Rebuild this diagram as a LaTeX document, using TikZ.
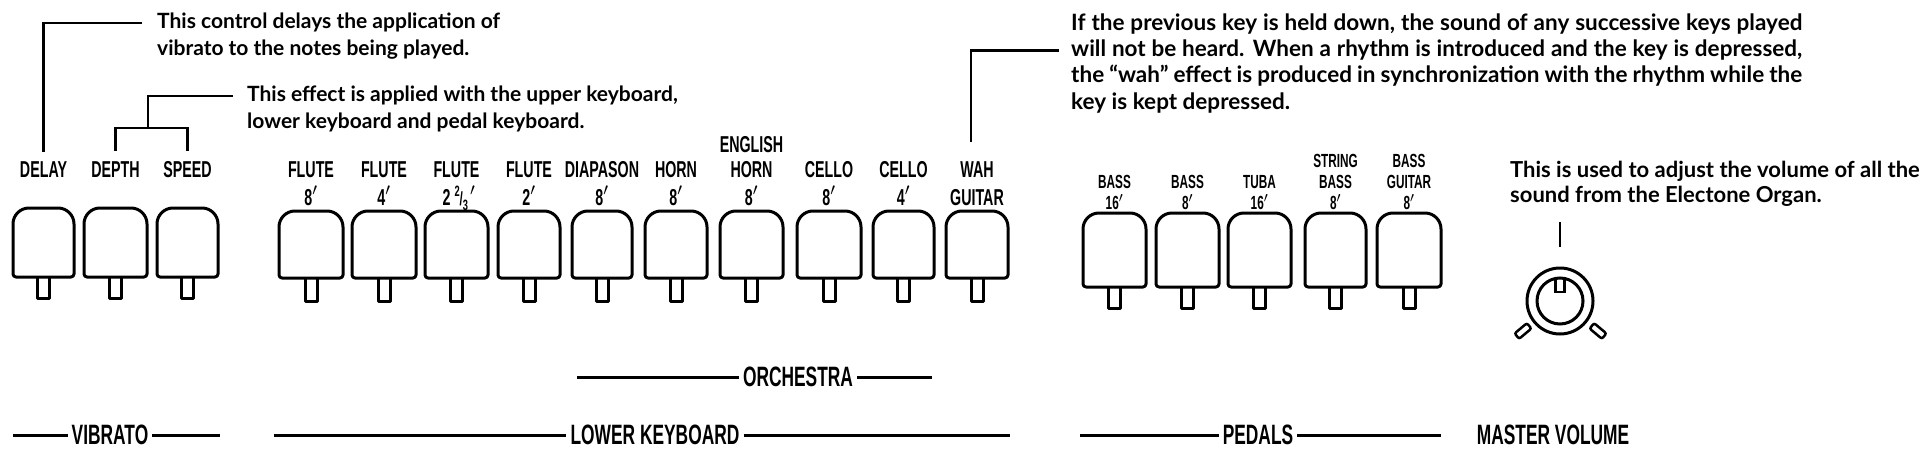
\documentclass[tikz,border=0pt]{standalone}
\usepackage{fontspec}
\newfontfamily\lblfont{Liberation Sans}[FakeStretch=0.62]
\newfontfamily\descfont{Lato}
\newcommand\tabkey[5]{% xl, xr, ytop, ybox, ystem
  \pgfmathsetmacro\tkc{(#1+#2)/2}
  \draw[tabline] (#1,#4+3) -- (#1,#3-16) arc[start angle=180,end angle=90,radius=16pt]
    -- (#2-16,#3) arc[start angle=90,end angle=0,radius=16pt]
    -- (#2,#4+3) arc[start angle=0,end angle=-90,radius=3pt]
    -- (#1+3,#4) arc[start angle=270,end angle=180,radius=3pt] -- cycle;
  \draw[tabline] (\tkc-6,#4) -- (\tkc-6,#5) -- (\tkc+6,#5) -- (\tkc+6,#4);
}
\newcommand\just[1]{\makebox[731pt][s]{#1}}
\begin{document}
\begin{tikzpicture}[x=1pt,y=1pt,
  tabline/.style={line width=3pt, line join=round},
  callout/.style={line width=2.6pt},
  grpline/.style={line width=3pt},
  lbl/.style={font=\lblfont\bfseries\fontsize{23}{23}\selectfont, inner sep=0pt, anchor=base},
  plbl/.style={font=\lblfont\bfseries\fontsize{19}{19}\selectfont, inner sep=0pt, anchor=base},
  grp/.style={font=\lblfont\bfseries\fontsize{28}{28}\selectfont, inner sep=4pt, anchor=center},
  desc/.style={font=\descfont\bfseries\fontsize{21}{21}\selectfont, inner sep=0pt, anchor=base west},
  wdesc/.style={desc, font=\descfont\bfseries\fontsize{22.5}{22.5}\selectfont},
  mdesc/.style={desc, font=\descfont\bfseries\fontsize{22}{22}\selectfont},
  slant/.style={draw, line width=2.5pt, rounded corners=2pt, minimum width=16pt, minimum height=7pt, inner sep=0pt}
]
\useasboundingbox (0,0) rectangle (1928,459);

% ---------- description texts ----------
\node[desc] (c1a) at (157,430) {This control delays the application of};
\node[desc] (c1b) at (157,403) {vibrato to the notes being played.};
\node[desc] (c2a) at (247,357) {This effect is applied with the upper keyboard,};
\node[desc] (c2b) at (247,331) {lower keyboard and pedal keyboard.};
\node[wdesc] (w1) at (1071,428) {\just{If the previous key is held down, the sound of any successive keys played}};
\node[wdesc] (w2) at (1071,402) {\just{will not be heard. When a rhythm is introduced and the key is depressed,}};
\node[wdesc] (w3) at (1071,376) {\just{the “wah” effect is produced in synchronization with the rhythm while the}};
\node[wdesc] (w4) at (1071,350) {key is kept depressed.};
\node[mdesc] (m1) at (1510,282) {This is used to adjust the volume of all the};
\node[mdesc] (m2) at (1510,257) {sound from the Electone Organ.};

% ---------- vibrato ----------
\node[lbl] (delay) at (43.5,282) {DELAY};
\node[lbl] (depth) at (115.5,282) {DEPTH};
\node[lbl] (speed) at (187.5,282) {SPEED};
\tabkey{13}{74}{251}{182}{161}
\tabkey{84}{147}{251}{182}{161}
\tabkey{157}{218}{251}{182}{161}

% ---------- lower keyboard ----------
\node[lbl] (fl8) at (311,282) {FLUTE};
\node[lbl] (fl8f) at (311,254) {8$'$};
\node[lbl] (fl4) at (384,282) {FLUTE};
\node[lbl] (fl4f) at (384,254) {4$'$};
\node[lbl] (fl23) at (456.5,282) {FLUTE};
\node[lbl] (fl23f) at (459,254) {2\kern4pt\raisebox{9pt}{\fontsize{15}{15}\selectfont 2}\kern0pt{\fontsize{19}{19}\selectfont /}\kern0pt\raisebox{-5pt}{\fontsize{15}{15}\selectfont 3}\kern2pt$'$};
\node[lbl] (fl2) at (529,282) {FLUTE};
\node[lbl] (fl2f) at (529,254) {2$'$};
\node[lbl] (diap) at (602,282) {DIAPASON};
\node[lbl] (diapf) at (602,254) {8$'$};
\node[lbl] (horn) at (676,282) {HORN};
\node[lbl] (hornf) at (676,254) {8$'$};
\node[lbl] (eng) at (751.5,307) {ENGLISH};
\node[lbl] (ehorn) at (751.5,282) {HORN};
\node[lbl] (ehornf) at (751.5,254) {8$'$};
\node[lbl] (cel8) at (829,282) {CELLO};
\node[lbl] (cel8f) at (829,254) {8$'$};
\node[lbl] (cel4) at (903.5,282) {CELLO};
\node[lbl] (cel4f) at (903.5,254) {4$'$};
\node[lbl] (wah) at (977,282) {WAH};
\node[lbl] (wahg) at (977,254) {GUITAR};
\tabkey{279}{343}{248}{181}{158}
\tabkey{352}{416}{248}{181}{158}
\tabkey{425}{488}{248}{181}{158}
\tabkey{498}{560}{248}{181}{158}
\tabkey{572}{632}{248}{181}{158}
\tabkey{645}{707}{248}{181}{158}
\tabkey{720}{783}{248}{181}{158}
\tabkey{797}{861}{248}{181}{158}
\tabkey{873}{934}{248}{181}{158}
\tabkey{946}{1008}{248}{181}{158}

% ---------- pedals ----------
\node[plbl] (b16) at (1114.5,271) {BASS};
\node[plbl] (b16f) at (1114.5,250) {16$'$};
\node[plbl] (b8) at (1187.5,271) {BASS};
\node[plbl] (b8f) at (1187.5,250) {8$'$};
\node[plbl] (tuba) at (1259.5,271) {TUBA};
\node[plbl] (tubaf) at (1259.5,250) {16$'$};
\node[plbl] (str) at (1335.5,292) {STRING};
\node[plbl] (strb) at (1335.5,271) {BASS};
\node[plbl] (strf) at (1335.5,250) {8$'$};
\node[plbl] (bg) at (1409,292) {BASS};
\node[plbl] (bgg) at (1409,271) {GUITAR};
\node[plbl] (bgf) at (1409,250) {8$'$};
\tabkey{1083}{1146}{246}{172}{151}
\tabkey{1156}{1219}{246}{172}{151}
\tabkey{1228}{1291}{246}{172}{151}
\tabkey{1305}{1366}{246}{172}{151}
\tabkey{1377}{1441}{246}{172}{151}

% ---------- master volume knob ----------
\node[circle, draw, line width=3pt, minimum size=66pt, inner sep=0pt] (knob) at (1560,158) {};
\node[circle, draw, line width=3pt, minimum size=46pt, inner sep=0pt] (knobin) at (knob.center) {};
\draw[line width=2.5pt] (1555.5,181) -- (1555.5,167) -- (1564.5,167) -- (1564.5,181);
\node[slant, rotate=40] (slL) at (1523,128) {};
\node[slant, rotate=-40] (slR) at (1598,128) {};

% ---------- callout connectors ----------
\draw[callout] ([xshift=-15pt]c1a.west) -| ([yshift=9pt]delay.north);
\coordinate (br) at (148,331);
\draw[callout] ([xshift=-14pt]c2a.west) -| (br);
\draw[callout] ([yshift=10pt]depth.north) |- (br) -| ([yshift=10pt]speed.north);
\coordinate (wahtop) at (971,317);
\draw[callout] ([xshift=-12pt]w2.west) -| (wahtop);
\coordinate (mv) at (m2.south -| knob.north);
\draw[callout] ([yshift=-16pt]mv) -- ([yshift=20pt]knob.north);

% ---------- group labels ----------
\node[grp] (orch) at (798,82) {ORCHESTRA};
\coordinate (orchL) at (577,82); \coordinate (orchR) at (932,82);
\draw[grpline] (orchL) -- (orch.west); \draw[grpline] (orch.east) -- (orchR);
\node[grp] (vib) at (110,24) {VIBRATO};
\coordinate (vibL) at (13,24); \coordinate (vibR) at (220,24);
\draw[grpline] (vibL) -- (vib.west); \draw[grpline] (vib.east) -- (vibR);
\node[grp] (lk) at (655,24) {LOWER KEYBOARD};
\coordinate (lkL) at (274,24); \coordinate (lkR) at (1010,24);
\draw[grpline] (lkL) -- (lk.west); \draw[grpline] (lk.east) -- (lkR);
\node[grp] (ped) at (1258,24) {PEDALS};
\coordinate (pedL) at (1080,24); \coordinate (pedR) at (1441,24);
\draw[grpline] (pedL) -- (ped.west); \draw[grpline] (ped.east) -- (pedR);
\node[grp] (mvol) at (1553,24) {MASTER VOLUME};
\end{tikzpicture}
\end{document}
